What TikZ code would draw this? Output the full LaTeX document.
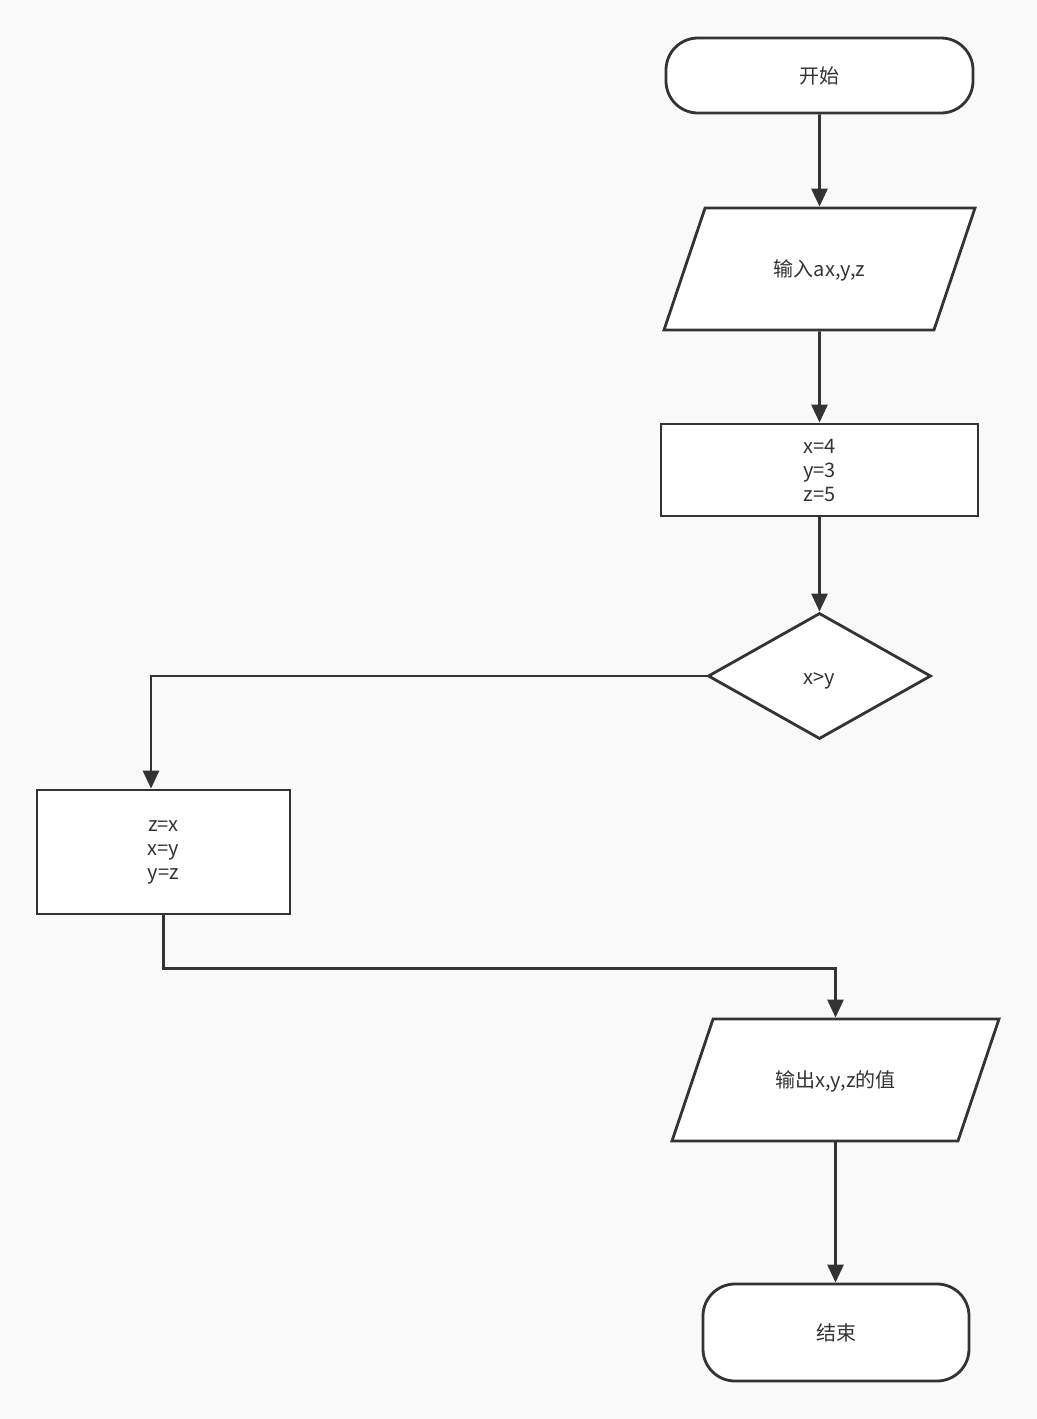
\documentclass[tikz,border=0pt]{standalone}
\usepackage{fontspec}
\setmainfont{Noto Sans CJK SC}
\usepackage{tikz}
\usetikzlibrary{shapes.geometric,arrows.meta,positioning,calc}
\definecolor{darkline}{RGB}{51,51,51}
\definecolor{canvas}{RGB}{249,249,249}

\tikzset{
    terminal/.style={draw=darkline, fill=white, line width=1.4pt, rounded corners=16pt, inner sep=0pt, text height=9pt, text depth=1pt},
    io/.style={draw=darkline, fill=white, line width=1.4pt, trapezium, trapezium left angle=71.4, trapezium right angle=108.6, trapezium stretches body, inner sep=0pt, text height=34.3pt, text depth=26.7pt},
    process/.style={draw=darkline, fill=white, line width=1.4pt, rectangle, inner sep=0pt, align=center},
    decision/.style={draw=darkline, fill=white, line width=1.4pt, diamond, inner sep=0pt, minimum width=111.5pt, minimum height=63pt, text height=9pt, text depth=1pt},
    flow/.style={draw=darkline, line width=1.4pt, -{Triangle[length=9pt,width=8pt]}}
}

\begin{document}
\begin{tikzpicture}[x=0.5pt,y=-0.5pt, font=\fontsize{10}{12}\selectfont, text=darkline]
                %Canvas
                \fill[canvas] (0,0) rectangle (1037,1419);
                \useasboundingbox (0,0) rectangle (1037,1419);
                %Nodes
                \node[terminal, minimum width=153.5pt, minimum height=37.5pt] (start) at (819.5,75.5) {开始};
                \node[io, minimum width=155.5pt] (input) at (819.5,269) {输入ax,y,z};
                \node[process, minimum width=158.5pt, minimum height=46pt] (init) at (819.5,470) {x=4\\y=3\\z=5};
                \node[decision] (cmp) at (819.5,676) {x>y};
                \node[process, minimum width=126.5pt, minimum height=62pt] (swap) at (163.5,852) {z=x\\x=y\\y=z};
                \node[io, minimum width=163.5pt] (output) at (835.5,1080) {输出x,y,z的值};
                \node[terminal, minimum width=133pt, minimum height=48.5pt] (stop) at (836,1332.5) {结束};
                %Edges
                \draw[flow] (start) -- (input);
                \draw[flow] (input) -- (init);
                \draw[flow] (init) -- (cmp);
                \draw[flow] (cmp.west) -| ([xshift=-6.25pt]swap.north);
                \draw[flow] (swap.south) -- ++(0,53) -| (output.north);
                \draw[flow] (output.south) -- (output.south |- stop.north);
            \end{tikzpicture}
\end{document}
